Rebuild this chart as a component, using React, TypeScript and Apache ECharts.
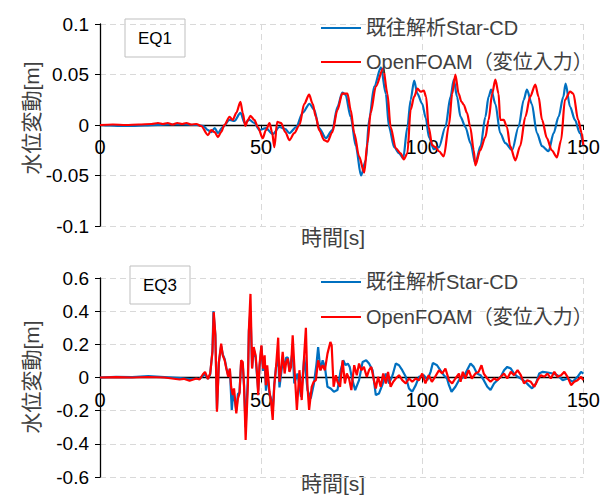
import React, { useEffect, useRef } from "react";
import * as echarts from "echarts";

// Water level fluctuation time histories [t (s), level (m)]
const seriesNames = ["既往解析Star-CD", "OpenFOAM（変位入力）"];
const panelLabels = ["EQ1", "EQ3"];
const xTicks = { min: 0, max: 150, interval: 50 };
const eq1Range = { min: -0.1, max: 0.1, interval: 0.05 };
const eq3Range = { min: -0.6, max: 0.6, interval: 0.2 };

const eq1StarCd: [number, number][] = [
  [0, 0], [3, -0.0005], [6, -0.001], [10, -0.001], [14, -0.0005], [18, 0], [22, 0.0005], [26, 0.0005],
  [30, 0], [32, -0.001], [33.5, -0.005], [34.5, -0.007], [35.6, -0.003], [36.6, -0.008], [38.1, -0.002],
  [40.2, 0.005], [41.7, 0.004], [43.6, 0.012], [44.9, 0.002], [46.4, 0.005], [47.9, 0.002], [49.5, -0.005],
  [51.5, -0.003], [53.6, -0.009], [55.7, -0.002], [57.5, -0.004], [58.8, -0.008], [60.9, -0.002],
  [62.9, 0.012], [65, 0.021], [66.5, 0.015], [68, -0.003], [70.1, -0.013], [72.1, -0.005], [73.7, 0.018],
  [75.2, 0.032], [76.2, 0.03], [77.8, 0.008], [79.4, -0.021], [81, -0.05], [82.5, -0.035], [83.5, 0.005],
  [85.1, 0.038], [87.2, 0.057], [88.7, 0.031], [89.7, -0.002], [91.3, -0.022], [92.8, -0.028],
  [94.1, -0.033], [95.4, -0.002], [96.4, 0.025], [97.5, 0.044], [98.5, 0.031], [100, 0.021], [101.1, 0.007],
  [102.1, -0.012], [103.6, -0.024], [105.2, -0.022], [107.2, -0.002], [108.8, 0.028], [109.8, 0.045],
  [110.8, 0.028], [111.9, 0.008], [113.4, -0.002], [115, -0.018], [116.5, -0.038], [118.1, -0.021],
  [119.6, 0.008], [120.6, 0.028], [121.4, 0.035], [122.7, 0.021], [124.2, -0.008], [125.8, -0.018],
  [127.9, -0.025], [129.9, -0.002], [131.5, 0.025], [132.5, 0.035], [134, 0.021], [135.6, -0.008],
  [137.2, -0.021], [139.2, -0.026], [140.8, -0.008], [142.3, 0.008], [143.8, 0.028], [144.5, 0.041],
  [145.9, 0.018], [147.4, 0.005], [148.9, -0.008], [150, -0.02],
];

const eq1OpenFoam: [number, number][] = [
  [0, 0], [4, 0.0005], [8, 0], [12, 0.0005], [16, 0.001], [18, 0.002], [19.5, 0.001], [21, 0.002],
  [22.5, 0.0005], [24, 0.002], [25.5, 0.001], [26.8, 0.002], [28.3, 0.0005], [29.9, 0.001], [31.4, -0.001],
  [33.5, -0.01], [34.5, -0.005], [35.6, -0.007], [36.6, -0.012], [37.6, -0.007], [38.6, 0], [40.2, 0.008],
  [41.2, 0.005], [42.3, 0.012], [43.6, 0.023], [44.3, 0.012], [45.1, -0.001], [45.9, 0.005], [46.7, 0.009],
  [47.9, 0.005], [49, -0.002], [50.5, -0.013], [51.5, -0.005], [52.6, 0.002], [53.4, -0.007], [54.1, -0.022],
  [55, 0.003], [56.2, 0.002], [57.5, -0.007], [58.8, -0.015], [60.3, -0.008], [61.9, 0], [63.4, 0.021],
  [64.9, 0.03], [66, 0.021], [67, 0.008], [68, -0.005], [69.6, -0.015], [70.6, -0.0165], [72.1, -0.007],
  [73.7, 0.015], [75.2, 0.031], [76.8, 0.031], [77.8, 0.015], [78.9, -0.008], [80.4, -0.031], [82, -0.047],
  [83, -0.018], [84, 0.012], [85.6, 0.038], [87.9, 0.056], [89.2, 0.031], [90.2, -0.002], [91.8, -0.023],
  [93.3, -0.028], [94.3, -0.034], [95.4, -0.028], [96.4, 0.015], [97.5, 0.028], [98.5, 0.036], [99.5, 0.033],
  [100.5, 0.034], [101.2, 0.028], [102, -0.002], [103.1, -0.02], [104.1, -0.022], [105.2, -0.026],
  [106.7, -0.031], [108.3, 0], [109.3, 0.031], [110.3, 0.05], [111.3, 0.031], [112.2, 0.023], [112.9, 0.02],
  [113.9, 0.012], [114.9, -0.002], [116, -0.025], [116.5, -0.04], [118, -0.025], [119.6, -0.012],
  [120.6, 0.005], [121.7, 0.031], [122.7, 0.045], [123.7, 0.031], [124.2, 0.005], [125.3, 0.005],
  [126.3, -0.002], [127.3, -0.021], [128.9, -0.035], [130.4, -0.021], [132, 0.008], [133.5, 0.028],
  [135.1, 0.04], [136.1, 0.028], [137.2, 0.005], [138.7, -0.013], [140.2, -0.025], [141.8, -0.032],
  [143.1, -0.015], [144.3, 0.025], [145.9, 0.033], [146.9, 0.031], [148.4, 0.005], [149.5, -0.008],
  [150, -0.02],
];

const eq3StarCd: [number, number][] = [
  [0, 0], [5, 0.004], [10, 0.002], [15, 0.008], [20, 0.002], [25, -0.004], [28, -0.01], [31, -0.006],
  [32.6, 0.02], [33.5, -0.008], [34.2, 0.02], [34.9, 0.16], [35.2, 0.4], [35.8, 0.26], [36.3, -0.19],
  [36.9, 0.09], [37.6, 0.19], [38.1, 0.14], [38.7, 0.11], [39.2, 0.06], [39.8, 0.01], [40.3, 0.05],
  [40.9, -0.196], [41.3, -0.1], [41.7, -0.12], [42.3, -0.2], [42.8, -0.1], [43.3, -0.09], [43.8, 0.09],
  [44.3, 0.08], [44.7, -0.05], [45.2, -0.3], [45.9, 0], [46.2, 0.28], [46.7, 0.4], [47.2, 0.06], [47.7, 0.17],
  [48.3, 0.12], [48.7, 0.02], [49.1, -0.08], [49.5, 0.06], [50.1, 0.19], [50.6, 0.04], [51.1, 0.1],
  [51.5, -0.08], [51.9, 0.03], [52.6, -0.1], [53.1, -0.13], [53.6, -0.2], [54.1, -0.04], [54.6, 0.06],
  [55.3, 0.12], [55.7, -0.06], [56.2, 0.02], [56.7, 0.1], [57.3, 0.08], [57.8, 0.12], [58.3, 0.12],
  [58.8, 0.04], [59.3, 0.1], [59.8, 0.16], [60.3, -0.036], [61.3, 0.024], [62.4, -0.116], [63.4, 0.124],
  [64.4, -0.076], [65.4, -0.126], [66.4, -0.036], [67.2, 0.084], [67.7, 0.184], [68.4, 0.044],
  [69.1, 0.104], [69.8, 0.064], [70.6, -0.056], [71.6, -0.066], [72.6, -0.086], [73.7, -0.076],
  [74.7, 0.044], [75.5, 0.104], [76.2, 0.074], [76.9, 0.084], [77.5, 0.064], [78.2, -0.006], [79.2, -0.076],
  [80.4, -0.016], [81.5, 0.094], [82.6, 0.104], [83.5, 0.084], [84.6, 0.044], [85.6, -0.106], [86.6, -0.096],
  [87.6, -0.046], [88.7, 0.024], [89.7, -0.036], [90.8, 0.014], [91.8, 0.084], [92.8, 0.074], [93.8, 0.044],
  [94.9, 0.004], [95.9, -0.066], [96.9, -0.086], [98, -0.046], [99, 0.004], [100.5, 0.014], [101.6, -0.016],
  [102.6, 0.034], [103.3, 0.088], [104.6, 0.074], [105.6, 0.044], [106.7, 0.014], [107.7, -0.006],
  [108.3, -0.046], [109.1, -0.086], [110.3, -0.056], [111.4, -0.016], [112.9, 0.004], [113.9, 0.044],
  [115, 0.084], [116, 0.064], [117, 0.024], [118.1, 0.014], [119.1, -0.016], [120.2, -0.056], [121.2, -0.076],
  [122.3, -0.036], [123.3, -0.016], [124.4, 0.004], [125.4, 0.044], [126.4, 0.064], [127.5, 0.054],
  [128.5, 0.024], [129.6, 0.004], [130.6, -0.006], [132, -0.026], [133, -0.046], [134.1, -0.066],
  [135.3, -0.036], [136.3, 0.024], [137.4, 0.034], [138.9, 0.03], [140.5, 0.024], [142, 0.014],
  [143.6, -0.016], [145.1, -0.006], [146.7, -0.026], [148.2, 0.004], [149.3, 0.034], [150, 0.024],
];

const eq3OpenFoam: [number, number][] = [
  [0, 0], [5, 0.002], [10, 0], [15, 0.003], [20, 0], [24.7, -0.012], [26, -0.008], [27.8, -0.02],
  [29.9, -0.006], [30.9, -0.012], [31.9, 0.018], [32.6, 0.034], [33.5, -0.01], [34.2, 0.024], [34.9, 0.154],
  [35.3, 0.394], [35.8, 0.254], [36.3, -0.206], [36.9, 0.094], [37.6, 0.204], [38.1, 0.134], [38.7, 0.104],
  [39.2, 0.054], [39.8, 0.004], [40.3, 0.054], [40.7, -0.056], [41.2, -0.106], [41.6, -0.066],
  [42.3, -0.216], [42.8, -0.126], [43.3, -0.096], [43.8, 0.104], [44.3, 0.094], [44.7, -0.046],
  [45.2, -0.376], [45.9, -0.046], [46.2, 0.284], [46.7, 0.504], [47.2, 0.054], [47.7, 0.184], [48.3, 0.134],
  [48.7, 0.034], [49.1, -0.106], [49.5, 0.074], [50.1, 0.194], [50.6, 0.054], [51.1, 0.134], [51.5, -0.046],
  [51.9, 0.074], [52.6, -0.086], [53.1, -0.146], [53.6, -0.256], [54.1, -0.046], [54.6, 0.054], [55.3, 0.24],
  [55.7, -0.026], [56.2, 0.054], [56.7, 0.154], [57.3, 0.024], [57.8, 0.094], [58.3, 0.114], [58.8, 0.034],
  [59.3, 0.064], [59.8, 0.254], [60.3, 0.074], [61.1, -0.196], [61.9, 0.044], [62.6, -0.136], [63.4, 0.144],
  [63.9, 0.3], [64.4, -0.056], [64.9, -0.196], [65.7, -0.056], [66.3, -0.026], [67, -0.016], [67.7, 0.104],
  [68.4, 0.044], [69.1, 0.074], [69.8, 0.044], [70.6, 0.144], [71.5, 0.214], [71.9, 0.194], [72.5, -0.056],
  [73.2, 0.014], [73.7, -0.026], [74.5, -0.056], [75.3, 0.104], [76, -0.036], [76.6, 0.024], [77.3, -0.006],
  [78, -0.076], [78.9, 0.074], [79.7, 0.014], [80.4, 0.084], [81.1, 0.044], [81.9, 0.064], [82.8, 0.004],
  [83.5, 0.044], [84.2, 0.064], [85, -0.016], [85.6, -0.066], [86.3, 0.004], [87.1, -0.056], [87.9, 0.024],
  [88.7, -0.036], [89.4, 0.034], [90.2, -0.056], [91, -0.026], [91.8, -0.006], [92.8, 0.014], [93.8, -0.016],
  [94.9, -0.036], [95.9, -0.006], [96.9, -0.026], [98, -0.006], [99, -0.016], [100, 0.024], [101, -0.036],
  [102, 0.014], [103, -0.026], [104, 0.004], [105.2, 0.044], [106.2, 0.024], [107.2, 0.054], [108.3, -0.016],
  [109.3, -0.036], [110.3, -0.006], [111.4, 0.024], [111.9, -0.026], [112.6, 0.034], [113.4, -0.006],
  [114.4, 0.044], [115.4, -0.006], [116.5, 0.024], [117.5, 0.034], [118.4, 0.074], [119.1, 0.024],
  [120.2, -0.006], [121.2, -0.026], [122.3, -0.006], [123.3, -0.016], [124.4, 0.004], [125.4, 0.024],
  [126.4, -0.006], [127.5, 0.034], [128.5, 0.014], [129.6, 0.044], [130.6, 0.014], [131.6, -0.036],
  [132.6, -0.016], [133.7, -0.026], [134.8, -0.056], [135.8, -0.016], [136.8, 0.014], [137.9, 0.004],
  [138.9, 0.024], [139.9, -0.006], [141, 0.034], [142, 0.004], [143.1, 0.014], [144.1, 0.034], [145.1, 0.004],
  [146.2, -0.046], [147.2, -0.026], [148.2, -0.016], [149.3, 0.004], [150, -0.016],
];

const FONT = "'Liberation Sans', 'Noto Sans CJK JP', sans-serif";
const BLUE = "#0070C0";
const RED = "#FF0000";

// Plot areas (px)
const grids = [
  { left: 100, right: 18, top: 24, height: 202 },
  { left: 100, right: 18, top: 278, height: 199 },
];

const gridLine = { show: true, lineStyle: { color: "#D9D9D9", type: [6, 4] as number[], width: 1 } };

// The time axis (line, ticks and labels) sits on the zero level of the value axis.
function xAxisFor(gridIndex: number, range: { min: number; max: number }) {
  const h = grids[gridIndex].height;
  const zeroFromBottom = (h * (0 - range.min)) / (range.max - range.min);
  return {
    type: "value" as const,
    gridIndex,
    ...xTicks,
    position: "bottom" as const,
    offset: -zeroFromBottom,
    axisLine: { show: true, onZero: false, lineStyle: { color: "#000", width: 1.3 } },
    axisTick: { show: true, length: 5, lineStyle: { color: "#000" } },
    axisLabel: { color: "#000", fontSize: 20, fontFamily: FONT, margin: 12 },
    splitLine: gridLine,
  };
}

function yAxisFor(gridIndex: number, range: { min: number; max: number; interval: number }) {
  return {
    type: "value" as const,
    gridIndex,
    ...range,
    axisLine: { show: true, onZero: false, lineStyle: { color: "#000", width: 1.3 } },
    axisTick: { show: true, length: 5, lineStyle: { color: "#000" } },
    axisLabel: { color: "#000", fontSize: 19, fontFamily: FONT, margin: 11 },
    splitLine: gridLine,
  };
}

function lineSeries(name: string, color: string, data: [number, number][], idx: number, smooth: number) {
  return {
    type: "line" as const,
    name,
    data,
    xAxisIndex: idx,
    yAxisIndex: idx,
    symbol: "none",
    showSymbol: false,
    smooth,
    smoothMonotone: "x" as const,
    lineStyle: { color, width: 2.2 },
    itemStyle: { color },
  };
}

function legendAt(top: number, gap: number) {
  return {
    orient: "vertical" as const,
    left: 316,
    top,
    icon: "rect",
    itemWidth: 40,
    itemHeight: 2,
    itemGap: gap,
    data: seriesNames,
    textStyle: { fontSize: 20, color: "#404040", fontFamily: FONT, lineHeight: 22 },
  };
}

function labelBox(x: number, y: number, text: string) {
  return {
    type: "group" as const,
    children: [
      {
        type: "rect" as const,
        shape: { x, y, width: 60, height: 38 },
        style: { fill: "#fff", stroke: "#BFBFBF", lineWidth: 1 },
      },
      {
        type: "text" as const,
        x: x + 30,
        y: y + 19,
        style: { text, fill: "#000", fontSize: 17, fontFamily: FONT, align: "center", verticalAlign: "middle" },
      },
    ],
  };
}

function axisName(x: number, y: number, text: string, rotation = 0) {
  return {
    type: "text" as const,
    x,
    y,
    rotation,
    style: { text, fill: "#404040", fontSize: 21, fontFamily: FONT, align: "center", verticalAlign: "middle" },
  };
}

export default function App() {
  const ref = useRef<HTMLDivElement>(null);

  useEffect(() => {
    if (!ref.current) return;
    const chart = echarts.init(ref.current, undefined, { renderer: "svg" });
    chart.setOption({
      animation: false,
      backgroundColor: "#fff",
      grid: grids,
      xAxis: [xAxisFor(0, eq1Range), xAxisFor(1, eq3Range)],
      yAxis: [yAxisFor(0, eq1Range), yAxisFor(1, eq3Range)],
      legend: [legendAt(12, 12), legendAt(266, 13)],
      series: [
        lineSeries(seriesNames[0], BLUE, eq1StarCd, 0, 0.3),
        lineSeries(seriesNames[1], RED, eq1OpenFoam, 0, 0.3),
        lineSeries(seriesNames[0], BLUE, eq3StarCd, 1, 0),
        lineSeries(seriesNames[1], RED, eq3OpenFoam, 1, 0),
      ],
      graphic: [
        labelBox(125, 19, panelLabels[0]),
        labelBox(130, 266, panelLabels[1]),
        axisName(31, 118, "水位変動[m]", Math.PI / 2),
        axisName(333, 237, "時間[s]"),
        axisName(31, 377, "水位変動[m]", Math.PI / 2),
        axisName(333, 483, "時間[s]"),
      ],
    });
    return () => chart.dispose();
  }, []);

  return (
    <div
      ref={ref}
      style={{ position: "absolute", left: 0, top: 0, width: 603, height: 495, background: "#fff" }}
    />
  );
}
